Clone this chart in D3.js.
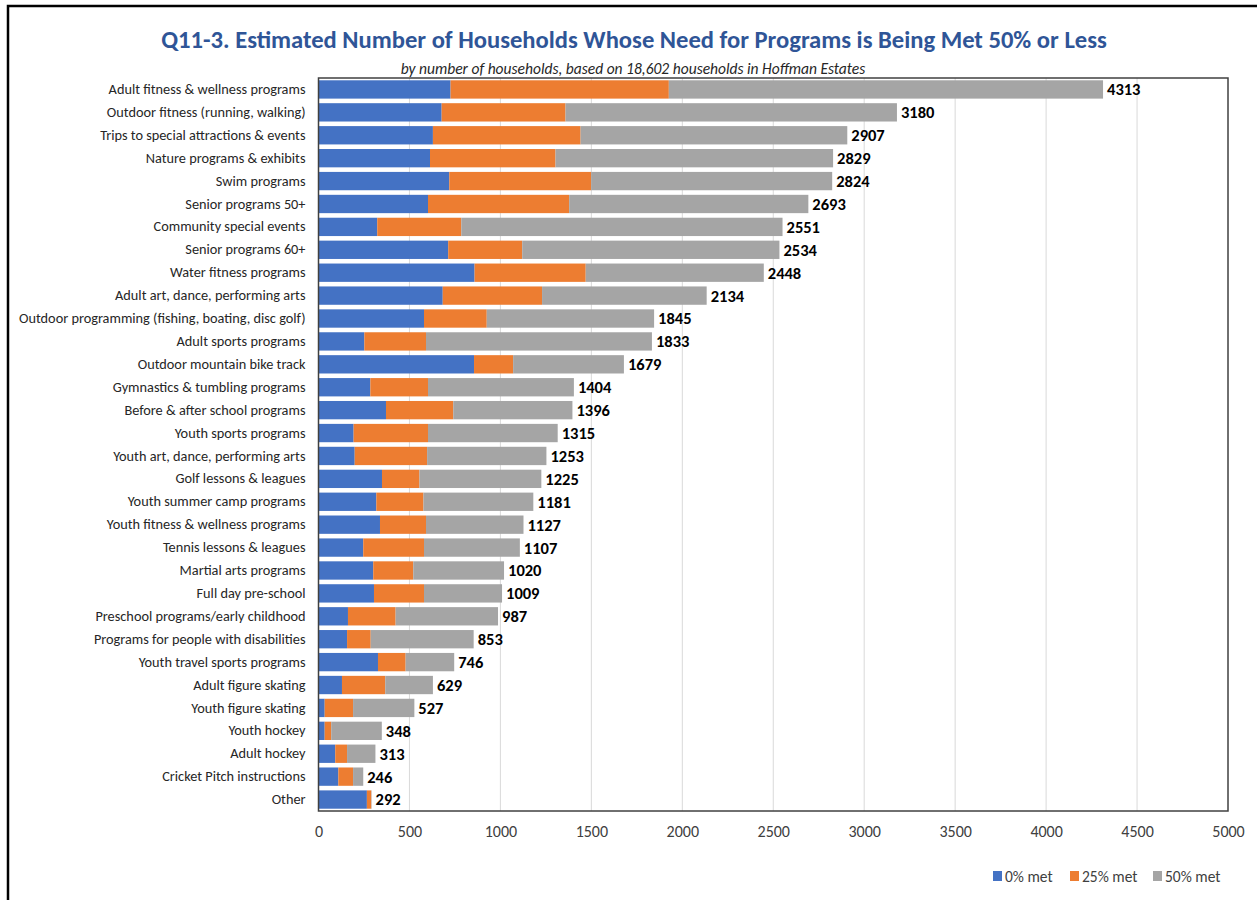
<!DOCTYPE html>
<html>
<head>
<meta charset="utf-8">
<script src="https://cdn.jsdelivr.net/npm/d3@7"></script>
<style>
  html, body { margin: 0; padding: 0; background: #fff; }
  svg { display: block; }
  text { font-family: "Carlito", "Lato", "Liberation Sans", sans-serif; }
</style>
</head>
<body>
<svg id="chart" width="1257" height="900"></svg>
<script>
const categories = [
  "Adult fitness & wellness programs",
  "Outdoor fitness (running, walking)",
  "Trips to special attractions & events",
  "Nature programs & exhibits",
  "Swim programs",
  "Senior programs 50+",
  "Community special events",
  "Senior programs 60+",
  "Water fitness programs",
  "Adult art, dance, performing arts",
  "Outdoor programming (fishing, boating, disc golf)",
  "Adult sports programs",
  "Outdoor mountain bike track",
  "Gymnastics & tumbling programs",
  "Before & after school programs",
  "Youth sports programs",
  "Youth art, dance, performing arts",
  "Golf lessons & leagues",
  "Youth summer camp programs",
  "Youth fitness & wellness programs",
  "Tennis lessons & leagues",
  "Martial arts programs",
  "Full day pre-school",
  "Preschool programs/early childhood",
  "Programs for people with disabilities",
  "Youth travel sports programs",
  "Adult figure skating",
  "Youth figure skating",
  "Youth hockey",
  "Adult hockey",
  "Cricket Pitch instructions",
  "Other"
];
const met0  = [726, 677, 629, 613, 719, 602, 323, 713, 858, 683, 580, 252, 855, 285, 371, 193, 199, 349, 318, 338, 246, 301, 305, 162, 157, 327, 129, 34, 34, 92, 109, 266];
const met25 = [1200, 681, 812, 690, 780, 776, 462, 407, 611, 546, 345, 339, 215, 317, 370, 409, 398, 206, 259, 253, 334, 220, 275, 262, 130, 152, 238, 156, 36, 65, 81, 24];
const met50 = [2387, 1822, 1466, 1526, 1325, 1315, 1766, 1414, 979, 905, 920, 1242, 609, 802, 655, 713, 656, 670, 604, 536, 527, 499, 429, 563, 566, 267, 262, 337, 278, 156, 56, 2];
const totals = [4313, 3180, 2907, 2829, 2824, 2693, 2551, 2534, 2448, 2134, 1845, 1833, 1679, 1404, 1396, 1315, 1253, 1225, 1181, 1127, 1107, 1020, 1009, 987, 853, 746, 629, 527, 348, 313, 246, 292];
const xTicks = [0, 500, 1000, 1500, 2000, 2500, 3000, 3500, 4000, 4500, 5000];
const seriesKeys = ["0% met", "25% met", "50% met"];
const seriesColors = ["#4472C4", "#ED7D31", "#A5A5A5"];

const titleText = "Q11-3. Estimated Number of Households Whose Need for Programs is Being Met 50% or Less";
const subtitleText = "by number of households, based on 18,602 households in Hoffman Estates";

const rows = categories.map((c, i) => ({ cat: c, "0% met": met0[i], "25% met": met25[i], "50% met": met50[i], total: totals[i] }));

const svg = d3.select("#chart");
const W = 1257, H = 900;
const m = { left: 318.5, right: 1228, top: 78, bottom: 811 };

// outer frame
svg.append("rect").attr("x", 8).attr("y", 6).attr("width", W + 20).attr("height", H + 20)
  .attr("fill", "none").attr("stroke", "#000").attr("stroke-width", 2.5);

const x = d3.scaleLinear().domain([0, 5000]).range([m.left, m.right]);
const y = d3.scaleBand().domain(categories).range([m.top, m.bottom]).paddingInner(0.2).paddingOuter(0.1);
const color = d3.scaleOrdinal().domain(seriesKeys).range(seriesColors);

// gridlines
svg.append("g").selectAll("line").data(xTicks.slice(1, -1)).join("line")
  .attr("x1", d => x(d)).attr("x2", d => x(d))
  .attr("y1", m.top).attr("y2", m.bottom)
  .attr("stroke", "#D9D9D9").attr("stroke-width", 1);

// bars
const stacked = d3.stack().keys(seriesKeys)(rows);
svg.append("g").selectAll("g").data(stacked).join("g")
  .attr("fill", d => color(d.key))
  .selectAll("rect").data(d => d).join("rect")
  .attr("x", d => x(d[0]))
  .attr("y", d => y(d.data.cat))
  .attr("width", d => Math.max(0, x(d[1]) - x(d[0])))
  .attr("height", y.bandwidth());

// plot border
svg.append("rect").attr("x", m.left).attr("y", m.top)
  .attr("width", m.right - m.left).attr("height", m.bottom - m.top)
  .attr("fill", "none").attr("stroke", "#404040").attr("stroke-width", 1.5);

// total labels
svg.append("g").selectAll("text").data(rows).join("text")
  .attr("x", d => x(d["0% met"] + d["25% met"] + d["50% met"]) + 4)
  .attr("y", d => y(d.cat) + y.bandwidth() / 2)
  .attr("dy", "0.36em")
  .attr("font-size", 16.5).attr("font-weight", "bold").attr("fill", "#000")
  .text(d => d.total);

// y axis labels
const yAxis = d3.axisLeft(y).tickSize(0).tickPadding(13);
const gy = svg.append("g").attr("transform", `translate(${m.left},0)`).call(yAxis);
gy.select(".domain").remove();
gy.selectAll("text").attr("font-size", 14.3).attr("fill", "#262626")
  .style("font-family", "Carlito, Lato, sans-serif");

// x axis
const xAxis = d3.axisBottom(x).tickValues(xTicks).tickSize(0).tickPadding(15).tickFormat(d3.format("d"));
const gx = svg.append("g").attr("transform", `translate(0,${m.bottom})`).call(xAxis);
gx.select(".domain").remove();
gx.selectAll("text").attr("font-size", 16).attr("fill", "#404040")
  .style("font-family", "Carlito, Lato, sans-serif");

// title
svg.append("text").attr("x", 634).attr("y", 48).attr("text-anchor", "middle")
  .attr("font-size", 24.6).attr("font-weight", "bold").attr("fill", "#2F5597")
  .text(titleText);
svg.append("text").attr("x", 633).attr("y", 74).attr("text-anchor", "middle")
  .attr("font-size", 15.5).attr("font-style", "italic").attr("fill", "#262626")
  .text(subtitleText);

// legend
const legendX = [993, 1070, 1153];
const lg = svg.append("g").selectAll("g").data(seriesKeys).join("g")
  .attr("transform", (d, i) => `translate(${legendX[i]},876)`);
lg.append("rect").attr("x", 0).attr("y", -5).attr("width", 9).attr("height", 10).attr("fill", d => color(d));
lg.append("text").attr("x", 12).attr("y", 0).attr("dy", "0.36em")
  .attr("font-size", 15.5).attr("fill", "#404040").text(d => d);
</script>
</body>
</html>
